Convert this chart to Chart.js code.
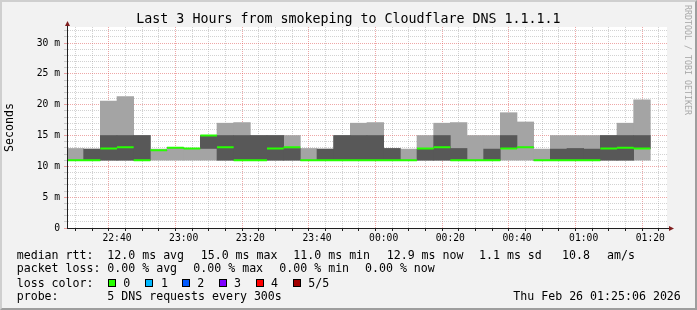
<!DOCTYPE html>
<html>
<head>
<meta charset="utf-8">
<script src="https://cdn.jsdelivr.net/npm/chart.js@4/dist/chart.umd.min.js"></script>
<style>
  html, body { margin: 0; padding: 0; background: #f2f2f2; }
  #wrap { position: relative; width: 697px; height: 310px; overflow: hidden; background: #f2f2f2; }
  #frame { position: absolute; left: 0; top: 0; width: 697px; height: 310px; box-sizing: border-box;
    border-top: 2px solid #cfcfcf; border-left: 2px solid #cfcfcf;
    border-right: 2px solid #9e9e9e; border-bottom: 2px solid #9e9e9e; pointer-events: none; }
  canvas { position: absolute; left: 0; top: 0; }
  .t { position: absolute; font-family: 'DejaVu Sans Mono', monospace; font-size: 11.6px; line-height: 14px; white-space: pre; color: #000; }
  .box { position: absolute; width: 6px; height: 6px; border: 1px solid #000; }
  #title { left: 0; width: 697px; top: 11px; text-align: center; font-size: 13.3px; line-height: 16px; }
  #credit { left: 694px; top: 5px; font-size: 8.3px; line-height: 12px; color: #a8a8a8; transform-origin: 0 0; transform: rotate(90deg); }
</style>
</head>
<body>
<div id="wrap">
  <canvas id="chartPing" width="697" height="310"></canvas>
  <div class="t" id="title">Last 3 Hours from smokeping to Cloudflare DNS 1.1.1.1</div>
  <div class="t" id="credit">RRDTOOL / TOBI OETIKER</div>
  <div id="legend"></div>
  <div id="frame"></div>
</div>
<script>
// 5 minute bins, start times
var bins = ['22:25', '22:30', '22:35', '22:40', '22:45', '22:50', '22:55', '23:00', '23:05', '23:10',
  '23:15', '23:20', '23:25', '23:30', '23:35', '23:40', '23:45', '23:50', '23:55', '00:00',
  '00:05', '00:10', '00:15', '00:20', '00:25', '00:30', '00:35', '00:40', '00:45', '00:50',
  '00:55', '01:00', '01:05', '01:10', '01:15']

// sorted pings per bin (ms): min, 2nd, median, 4th, max
var pingMin = [11.0, 11.0, 11.0, 11.0, 11.0, 11.0, 11.0, 11.0, 11.0, 11.0,
  11.0, 11.0, 11.0, 11.0, 11.0, 11.0, 11.0, 11.0, 11.0, 11.0,
  11.0, 11.0, 11.0, 11.0, 11.0, 11.0, 11.0, 11.0, 11.0, 11.0,
  11.0, 11.0, 11.0, 11.0, 11.0]
var pingLow = [11.0, 11.0, 11.0, 11.0, 11.0, 12.6, 13.0, 12.9, 12.9, 11.0,
  11.0, 11.0, 11.0, 11.0, 11.0, 11.0, 11.0, 11.0, 11.0, 11.0,
  11.0, 11.0, 11.0, 11.0, 11.0, 11.0, 12.9, 13.1, 11.0, 11.0,
  11.0, 11.0, 11.0, 11.0, 12.9]
var median = [11.0, 11.0, 12.9, 13.1, 11.0, 12.6, 13.0, 12.9, 15.0, 13.1,
  11.0, 11.0, 12.9, 13.1, 11.0, 11.0, 11.0, 11.0, 11.0, 11.0,
  11.0, 12.9, 13.1, 11.0, 11.0, 11.0, 12.9, 13.1, 11.0, 11.0,
  11.0, 11.0, 12.9, 13.0, 12.9]
var pingHigh = [11.0, 12.8, 15.0, 15.0, 15.0, 12.6, 13.0, 12.9, 15.0, 15.0,
  15.0, 15.0, 15.0, 12.9, 11.0, 12.8, 15.0, 15.0, 15.0, 12.9,
  11.0, 12.8, 15.0, 12.9, 11.0, 12.8, 15.0, 13.1, 11.0, 12.8,
  12.9, 12.8, 15.0, 15.0, 15.0]
var pingMax = [12.9, 12.8, 20.6, 21.3, 15.0, 12.8, 13.0, 12.9, 15.0, 17.0,
  17.1, 15.0, 15.0, 15.0, 12.9, 12.8, 15.0, 17.0, 17.1, 12.9,
  12.8, 15.0, 17.0, 17.1, 15.0, 15.0, 18.7, 17.2, 12.8, 15.0,
  15.0, 15.0, 15.0, 17.0, 20.8]

var xTickLabels = ['22:40', '23:00', '23:20', '23:40', '00:00', '00:20', '00:40', '01:00', '01:20']
var yTickLabels = ['0', '5 m', '10 m', '15 m', '20 m', '25 m', '30 m']

var STEP = 5
var START = 22 * 60 + 25
var MONO = 'DejaVu Sans Mono'

function clock(v) {
  var m = (START + v) % 1440
  var h = Math.floor(m / 60), mm = m % 60
  return (h < 10 ? '0' : '') + h + ':' + (mm < 10 ? '0' : '') + mm
}

var medianLine = []
median.forEach(function (m, i) {
  medianLine.push({ x: i * STEP, y: m }, { x: i * STEP + STEP, y: m }, { x: i * STEP + STEP, y: null })
})

var gridMinor = 'rgba(143,143,143,0.4)'
var gridMajor = 'rgba(222,79,79,0.5)'

function xGridColor(c) {
  if (!c.tick) return gridMinor
  return xTickLabels.indexOf(clock(c.tick.value)) >= 0 ? gridMajor : gridMinor
}
function yGridColor(c) {
  if (!c.tick) return gridMinor
  return c.tick.value % 5 === 0 ? gridMajor : gridMinor
}

var rrdLook = {
  id: 'rrdLook',
  beforeDraw: function (chart) {
    var a = chart.chartArea, ctx = chart.ctx
    ctx.save()
    ctx.fillStyle = '#fff'
    ctx.fillRect(a.left, a.top, a.right - a.left, a.bottom - a.top)
    ctx.restore()
  },
  afterDraw: function (chart) {
    var a = chart.chartArea, ctx = chart.ctx
    ctx.save()
    ctx.strokeStyle = '#1f1f1f'
    ctx.lineWidth = 1
    ctx.beginPath()
    ctx.moveTo(a.left + 0.5, a.bottom)
    ctx.lineTo(a.left + 0.5, a.top - 2)
    ctx.moveTo(a.left, a.bottom + 0.5)
    ctx.lineTo(a.right + 3, a.bottom + 0.5)
    ctx.stroke()
    ctx.fillStyle = '#801f1f'
    ctx.beginPath()
    ctx.moveTo(a.left - 2, a.top - 1)
    ctx.lineTo(a.left + 3, a.top - 1)
    ctx.lineTo(a.left + 0.5, a.top - 6)
    ctx.closePath()
    ctx.fill()
    ctx.beginPath()
    ctx.moveTo(a.right + 2, a.bottom - 2)
    ctx.lineTo(a.right + 2, a.bottom + 3)
    ctx.lineTo(a.right + 7, a.bottom + 0.5)
    ctx.closePath()
    ctx.fill()
    ctx.restore()
  }
}

// legend lines below the graph
var legendText = [
  ['median rtt:', 16.7, 254.7], ['12.0 ms avg', 107.3, 254.7], ['15.0 ms max', 200.7, 254.7],
  ['11.0 ms min', 293.3, 254.7], ['12.9 ms now', 386.7, 254.7], ['1.1 ms sd', 479, 254.7],
  ['10.8', 562, 254.7], ['am/s', 607, 254.7],
  ['packet loss:', 16.7, 268.3], ['0.00 % avg', 107.3, 268.3], ['0.00 % max', 193.3, 268.3],
  ['0.00 % min', 279.3, 268.3], ['0.00 % now', 365, 268.3],
  ['loss color:', 16.7, 282.5],
  ['probe:', 16.7, 296], ['5 DNS requests every 300s', 107.3, 296], ['Thu Feb 26 01:25:06 2026', 513.3, 296],
]
var lossColors = [['0', '#26ff00', 108.3, 123.3], ['1', '#00b8ff', 145, 161], ['2', '#0059ff', 182.3, 197.3],
  ['3', '#7e00ff', 219.3, 234], ['4', '#ff0000', 256, 271], ['5/5', '#a10000', 293.3, 308.3]]

var legend = document.getElementById('legend')
function addText(txt, x, y) {
  var d = document.createElement('div')
  d.className = 't'
  d.textContent = txt
  d.style.left = x + 'px'
  d.style.top = (y - 7) + 'px'
  legend.appendChild(d)
}
legendText.forEach(function (l) { addText(l[0], l[1], l[2]) })
lossColors.forEach(function (l) {
  var b = document.createElement('div')
  b.className = 'box'
  b.style.left = l[2] + 'px'
  b.style.top = (282.5 - 4) + 'px'
  b.style.background = l[1]
  legend.appendChild(b)
  addText(l[0], l[3], 282.5)
})

var ctx = document.getElementById('chartPing').getContext('2d')

var chart = new Chart(ctx, {
  type: 'bar',
  data: {
    datasets: [
      {
        label: 'outer',
        data: bins.map(function (b, i) { return { x: i * STEP + STEP / 2, y: [pingMin[i], pingMax[i]] } }),
        backgroundColor: '#a4a4a4',
        grouped: false,
        barPercentage: 1,
        categoryPercentage: 1,
        borderWidth: 0,
        order: 3,
      },
      {
        label: 'inner',
        data: bins.map(function (b, i) { return { x: i * STEP + STEP / 2, y: [pingLow[i], pingHigh[i]] } }),
        backgroundColor: '#585858',
        grouped: false,
        barPercentage: 1,
        categoryPercentage: 1,
        borderWidth: 0,
        order: 2,
      },
      {
        type: 'line',
        label: 'median',
        data: medianLine,
        borderColor: '#26ff00',
        borderWidth: 2,
        pointRadius: 0,
        spanGaps: false,
        order: 1,
      },
    ],
  },
  options: {
    responsive: false,
    animation: false,
    devicePixelRatio: 1,
    events: [],
    layout: { padding: { left: 0, right: 30, top: 27, bottom: 0 } },
    plugins: { legend: { display: false }, tooltip: { enabled: false } },
    scales: {
      x: {
        type: 'linear',
        offset: false,
        min: 0,
        max: bins.length * STEP + STEP,
        afterFit: function (s) { s.height = 82 },
        ticks: {
          stepSize: STEP,
          autoSkip: false,
          maxRotation: 0,
          padding: 2,
          color: '#000',
          font: { family: MONO, size: 9.7 },
          callback: function (v) {
            var c = clock(v)
            return xTickLabels.indexOf(c) >= 0 ? c : ''
          },
        },
        grid: {
          color: xGridColor,
          tickColor: '#1f1f1f',
          tickLength: 3,
          lineWidth: 1,
        },
        border: { display: true, color: '#1f1f1f', dash: [1, 1] },
      },
      y: {
        type: 'linear',
        min: 0,
        max: 32.6,
        afterBuildTicks: function (s) {
          var t = []
          for (var v = 0; v <= 32; v++) t.push({ value: v })
          s.ticks = t
        },
        afterFit: function (s) { s.width = 67 },
        ticks: {
          autoSkip: false,
          padding: 4,
          color: '#000',
          font: { family: MONO, size: 9.7 },
          callback: function (v) { return v % 5 === 0 ? yTickLabels[v / 5] : '' },
        },
        grid: {
          color: yGridColor,
          tickColor: yGridColor,
          tickLength: 3,
          lineWidth: 1,
        },
        border: { display: true, color: '#1f1f1f', dash: [1, 1] },
        title: {
          display: true,
          text: 'Seconds',
          color: '#000',
          font: { family: MONO, size: 11.6 },
          padding: { top: 3, bottom: 0 },
        },
      },
    },
  },
  plugins: [rrdLook],
})
</script>
</body>
</html>
